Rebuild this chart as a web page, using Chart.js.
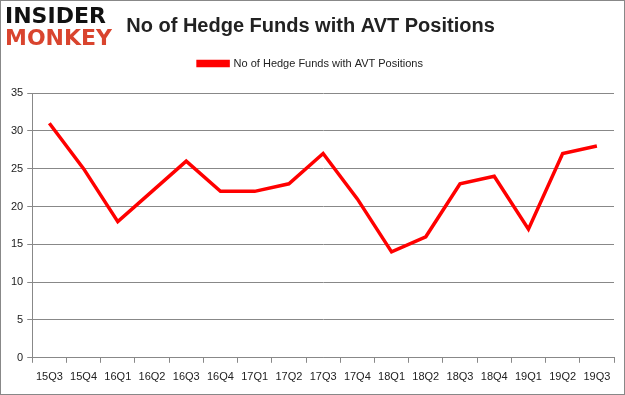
<!DOCTYPE html>
<html>
<head>
<meta charset="utf-8">
<script src="https://cdn.jsdelivr.net/npm/chart.js@4/dist/chart.umd.min.js"></script>
<style>
  body { margin: 0; background: #fff; }
  #wrap { position: relative; width: 625px; height: 395px; box-sizing: border-box; border: 1px solid #888; }
  #logo { position: absolute; left: 4px; top: 4px; font-family: "DejaVu Sans", sans-serif; font-weight: bold; font-size: 22px; line-height: 22px; letter-spacing: 0px; }
  #logo .a { color: #111; }
  #logo .b { color: #d9442e; }
</style>
</head>
<body>
<div id="wrap">
  <canvas id="chart" width="623" height="393"></canvas>
  <div id="logo"><div class="a">INSIDER</div><div class="b">MONKEY</div></div>
</div>
<script>
const quarters = ['15Q3', '15Q4', '16Q1', '16Q2', '16Q3', '16Q4', '17Q1', '17Q2', '17Q3', '17Q4', '18Q1', '18Q2', '18Q3', '18Q4', '19Q1', '19Q2', '19Q3'];
const hedgeFunds = [31, 25, 18, 22, 26, 22, 22, 23, 27, 21, 14, 16, 23, 24, 17, 27, 28];
const yTicks = [0, 5, 10, 15, 20, 25, 30, 35];

const tickFont = { family: '"Liberation Sans", Arial, sans-serif', size: 11 };

// push the plot area down below the legend
const legendGap = {
    id: 'legendGap',
    beforeInit(chart) {
        const fit = chart.legend.fit;
        chart.legend.fit = function () {
            fit.bind(chart.legend)();
            this.height += 14;
        };
    }
};

const ctx = document.getElementById('chart').getContext('2d');
new Chart(ctx, {
    type: 'line',
    data: {
        labels: quarters,
        datasets: [{
            label: 'No of Hedge Funds with AVT Positions',
            data: hedgeFunds,
            borderColor: '#ff0000',
            backgroundColor: '#ff0000',
            borderWidth: 3.5,
            pointRadius: 0,
            tension: 0
        }]
    },
    plugins: [legendGap],
    options: {
        responsive: false,
        animation: false,
        layout: { padding: { left: 6, right: 10, top: 0, bottom: 2 } },
        plugins: {
            title: {
                display: true,
                text: 'No of Hedge Funds with AVT Positions',
                color: '#222',
                font: { family: '"Liberation Sans", Arial, sans-serif', size: 20, weight: 'bold' },
                padding: { top: 13, bottom: 10 }
            },
            legend: {
                labels: {
                    boxWidth: 30,
                    boxHeight: 4,
                    color: '#222',
                    font: tickFont,
                    padding: 10
                }
            },
            tooltip: { enabled: false }
        },
        scales: {
            x: {
                offset: true,
                grid: { offset: true, drawOnChartArea: false, color: '#888', tickLength: 5 },
                border: { color: '#888' },
                ticks: { color: '#222', font: tickFont, maxRotation: 0, autoSkip: false, padding: 8 }
            },
            y: {
                min: 0,
                max: 35,
                afterBuildTicks: axis => { axis.ticks = yTicks.map(v => ({ value: v })); },
                grid: { color: '#888', tickLength: 5 },
                border: { color: '#888' },
                ticks: { color: '#222', font: tickFont, padding: 4 }
            }
        }
    }
});
</script>
</body>
</html>
